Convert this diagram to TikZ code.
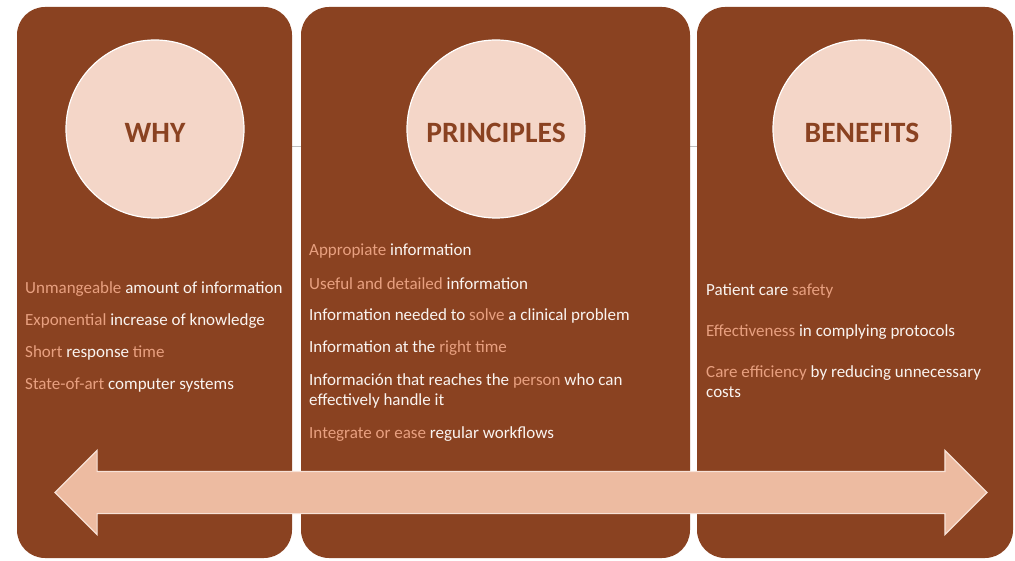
\documentclass[tikz,border=0pt]{standalone}
\usepackage{fontspec}
\setmainfont{Carlito}
\usepackage{tikz}
\usetikzlibrary{shapes,arrows,positioning}

\definecolor{panelbrown}{RGB}{138,66,33}
\definecolor{circlefill}{RGB}{244,214,200}
\definecolor{accent}{RGB}{232,160,128}
\definecolor{arrowfill}{RGB}{237,187,161}
\definecolor{arrowline}{RGB}{248,226,215}
\definecolor{softwhite}{RGB}{250,244,240}

\begin{document}
\begin{tikzpicture}[
    x=1pt, y=1pt,
    node distance=32pt,
    panel/.style={fill=panelbrown, rounded corners=28pt, inner sep=0pt},
    topic/.style={circle, draw=white, line width=1.2pt, fill=circlefill, minimum size=178pt, inner sep=0pt, text height=27pt, text depth=0pt, text=panelbrown, font=\fontsize{29.5}{34}\selectfont\bfseries},
    item/.style={anchor=west, inner sep=0pt, align=left, text=softwhite, font=\fontsize{17}{20}\selectfont},
    seam/.style={draw=gray!50, line width=0.6pt}
]
\useasboundingbox (0,0) rectangle (1015,560);

% faint line behind the panels
\coordinate (seamL) at (155,414);
\coordinate (seamR) at (862,414);
\draw[seam] (seamL) -- (seamR);

% Panels
\node[panel, minimum width=275pt, minimum height=551pt] (whypanel) at (154.5,277.5) {};
\node[panel, minimum width=389pt, minimum height=551pt] (principlespanel) at (495.5,277.5) {};
\node[panel, minimum width=316pt, minimum height=551pt] (benefitspanel) at (855,277.5) {};

% Circles
\node[topic] (why) at (155,431) {WHY};
\node[topic] (principles) at (496,431) {PRINCIPLES};
\node[topic] (benefits) at (862,431) {BENEFITS};

% Why
\node[item] (why1) at (25,271) {\textcolor{accent}{Unmangeable} amount of information};
\node[item, below=32pt of why1.west, anchor=west] (why2) {\textcolor{accent}{Exponential} increase of knowledge};
\node[item, below=32pt of why2.west, anchor=west] (why3) {\textcolor{accent}{Short} response \textcolor{accent}{time}};
\node[item, below=32pt of why3.west, anchor=west] (why4) {\textcolor{accent}{State-of-art} computer systems};

% Principles
\node[item] (pr1) at (309,309) {\textcolor{accent}{Appropiate} information};
\node[item, below=33pt of pr1.west, anchor=west] (pr2) {\textcolor{accent}{Useful and detailed} information};
\node[item, below=32pt of pr2.west, anchor=west] (pr3) {Information needed to \textcolor{accent}{solve} a clinical problem};
\node[item, below=32pt of pr3.west, anchor=west] (pr4) {Information at the \textcolor{accent}{right time}};
\node[item, below=43pt of pr4.west, anchor=west] (pr5) {Información that reaches the \textcolor{accent}{person} who can\\effectively handle it};
\node[item, below=43pt of pr5.west, anchor=west] (pr6) {\textcolor{accent}{Integrate or ease} regular workflows};

% Benefits
\node[item] (be1) at (706,269) {Patient care \textcolor{accent}{safety}};
\node[item, below=41pt of be1.west, anchor=west] (be2) {\textcolor{accent}{Effectiveness} in complying protocols};
\node[item, below=50pt of be2.west, anchor=west] (be3) {\textcolor{accent}{Care efficiency} by reducing unnecessary\\costs};

% Double arrow
\node[double arrow, fill=arrowfill, draw=arrowline, line width=1.2pt, minimum width=83pt, minimum height=932pt, double arrow head extend=21pt, inner xsep=0pt, inner ysep=20.5pt] (span) at (521,67.5) {};

\end{tikzpicture}
\end{document}
